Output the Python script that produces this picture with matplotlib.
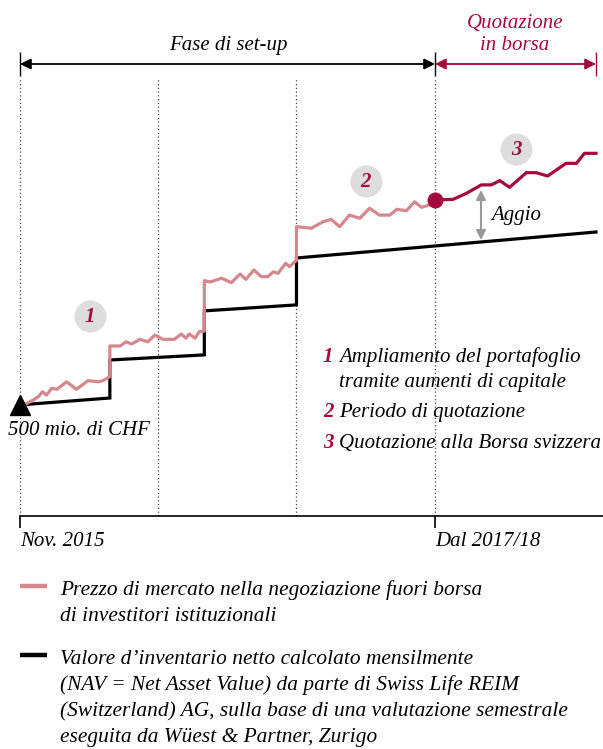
import matplotlib.pyplot as plt
from matplotlib.lines import Line2D

# months since Nov. 2015 / fund value in mio. CHF (schematic)
nav_x = [0, 7.8, 7.8, 16, 16, 24, 24, 50]
nav_y = [500, 531, 702, 725, 923, 950, 1161, 1278]

price_x = [0, 0.5, 1.15, 1.6, 1.95, 2.3, 2.75, 3.2, 4.05, 4.9, 5.9, 6.8, 7.2, 7.8,
           7.8, 8.7, 9.2, 9.7, 10.4, 11.1, 11.7, 12.4, 13.4, 14.0, 14.4, 14.7, 15.2, 15.55, 16,
           16, 16.5, 17.5, 18.35, 19.1, 19.6, 20.3, 20.95, 21.5, 22.0, 22.4, 23.05, 23.4, 23.85, 24,
           24, 25.3, 26.3, 27.0, 27.75, 28.6, 29.5, 30.35, 31.2, 32.1, 32.7, 33.55, 34.25, 34.85, 35.55, 36]
price_y = [500, 504, 522, 537, 559, 544, 575, 570, 604, 570, 609, 604, 609, 627,
           765, 765, 784, 774, 795, 784, 814, 795, 795, 819, 800, 819, 800, 829, 832,
           1059, 1053, 1070, 1050, 1089, 1065, 1107, 1077, 1077, 1099, 1092, 1137, 1122, 1144, 1150,
           1302, 1295, 1324, 1335, 1302, 1354, 1340, 1385, 1354, 1354, 1380, 1374, 1414, 1389, 1400, 1422]

listed_x = [36, 37.6, 38.75, 40.05, 40.9, 41.65, 42.5, 43.95, 44.8, 45.8, 47.4, 48.3, 49.0, 50]
listed_y = [1422, 1425, 1452, 1490, 1490, 1509, 1479, 1545, 1545, 1530, 1587, 1587, 1632, 1632]

phase_x = [0, 12, 24, 36]
start_value = 500
listing_month = 36

tick_labels = ["Nov. 2015", "Dal 2017/18"]
notes = [["Ampliamento del portafoglio", "tramite aumenti di capitale"],
         ["Periodo di quotazione"],
         ["Quotazione alla Borsa svizzera"]]
legend_labels = [["Prezzo di mercato nella negoziazione fuori borsa",
                  "di investitori istituzionali"],
                 ["Valore d\u2019inventario netto calcolato mensilmente",
                  "(NAV = Net Asset Value) da parte di Swiss Life REIM",
                  "(Switzerland) AG, sulla base di una valutazione semestrale",
                  "eseguita da W\u00fcest & Partner, Zurigo"]]

PINK = "#d4878c"
RED = "#a50a3c"
GREY = "#999999"
CIRCLE = "#dddddd"
FONT = "Liberation Serif"
FS = 15

W, H = 603, 749
fig = plt.figure(figsize=(W / 100, H / 100), dpi=100)

# data axes: 1 month = 11.52 px, 1 px = 4.5 mio. CHF, origin at (20, 516) px
ax = fig.add_axes([0, 0, 1, 1])
ax.set_xlim(-20 / 11.52, (W - 20) / 11.52)
ax.set_ylim(-(H - 516) * 4.5, 516 * 4.5)
ax.axis("off")

# overlay in pixel units for annotations
ov = fig.add_axes([0, 0, 1, 1], facecolor="none")
ov.set_xlim(0, W)
ov.set_ylim(H, 0)
ov.axis("off")


def itext(x, y, s, color="black", **kw):
    ov.text(x, y, s, ha=kw.pop("ha", "left"), va="baseline", fontsize=kw.pop("fontsize", FS),
            family=FONT, style="italic", color=color, **kw)


# dotted phase lines
ax.vlines(phase_x, 0, (516 - 78) * 4.5, colors="#444444", linestyles=(0, (1, 2)), lw=0.9)

# baseline axis with ticks
ax.plot([0, ax.get_xlim()[1]], [0, 0], color="black", lw=1.2)
ax.vlines([0, listing_month], -(528 - 516) * 4.5, 0, colors="black", lw=1.2)

ax.plot(nav_x, nav_y, color="black", lw=2.3, solid_joinstyle="miter", zorder=3)
ax.plot(price_x, price_y, color=PINK, lw=2.3, zorder=3)
ax.plot(listed_x, listed_y, color=RED, lw=2.3, zorder=4)
ax.plot([0], [start_value], marker="^", ms=15, color="black", zorder=5)
ax.plot([listing_month], [listed_y[0]], marker="o", ms=10.5, color=RED, zorder=5)

# top phase arrows
arrow_y = 64
ov.annotate("", xy=(20, arrow_y), xytext=(435, arrow_y),
            arrowprops=dict(arrowstyle="<|-|>", color="black", lw=1.3, mutation_scale=16,
                            shrinkA=0, shrinkB=0))
ov.annotate("", xy=(435, arrow_y), xytext=(596, arrow_y),
            arrowprops=dict(arrowstyle="<|-|>", color=RED, lw=1.3, mutation_scale=16,
                            shrinkA=0, shrinkB=0))
ov.vlines([20, 435], 52, 76, colors="black", lw=1)
ov.vlines([596], 52, 76, colors=RED, lw=1)
itext(228, 50, "Fase di set-up", ha="center")
itext(515, 28, "Quotazione", color=RED, ha="center")
itext(515, 50, "in borsa", color=RED, ha="center")

# aggio arrow
ov.annotate("", xy=(481, 190), xytext=(481, 240),
            arrowprops=dict(arrowstyle="<|-|>", color=GREY, lw=1.5, mutation_scale=14,
                            shrinkA=0, shrinkB=0))
itext(491, 220, "Aggio")

# numbered circles
for n, (cx, cy) in enumerate([(90, 316), (366, 181), (516, 149)], start=1):
    ov.plot([cx], [cy], marker="o", ms=22, color=CIRCLE, zorder=2)
    ov.text(cx, cy + 1, str(n), ha="center", va="center", fontsize=FS, family=FONT,
            style="italic", weight="bold", color=RED, zorder=6)

itext(79, 435, "500 mio. di CHF", ha="center")

# notes
for n, (lines, ty) in enumerate(zip(notes, [362, 417, 448]), start=1):
    itext(323, ty, str(n), color=RED, weight="bold")
    for i, line in enumerate(lines):
        itext(339, ty + 25 * i, line)

# tick labels
itext(20, 546, tick_labels[0])
itext(435, 546, tick_labels[1])

# legend
for lines, col, ly in zip(legend_labels, [PINK, "black"], [595, 664]):
    ov.add_line(Line2D([20, 47], [ly - 9, ly - 9], color=col, lw=3.2, solid_capstyle="butt"))
    for i, line in enumerate(lines):
        itext(60, ly + 26 * i, line, fontsize=15.4)

fig.savefig("out.png", dpi=100)
